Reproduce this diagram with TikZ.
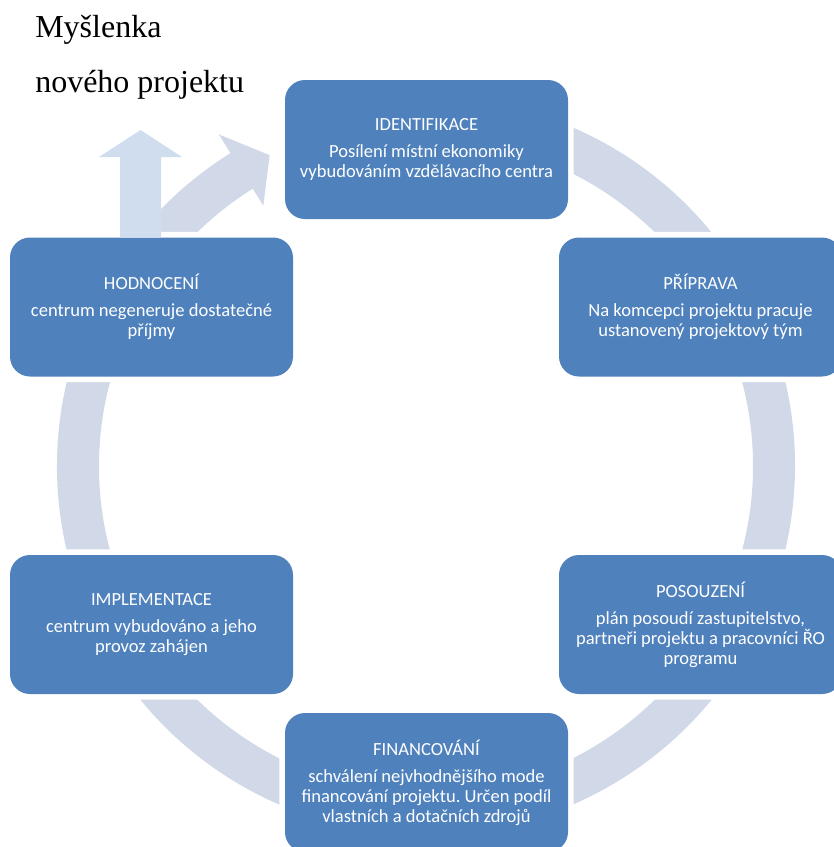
\documentclass[tikz,border=0pt]{standalone}
\usepackage{fontspec}
\setmainfont{Liberation Serif}
\newfontfamily\boxfont{Carlito}
\usetikzlibrary{calc}
\definecolor{ringc}{HTML}{D1D9E8}
\definecolor{uparrowc}{HTML}{CFDDEE}
\definecolor{boxblue}{HTML}{4F81BD}
\tikzset{
  stage/.style={rectangle, rounded corners=15pt, fill=boxblue,
    minimum width=212.25pt, minimum height=104.25pt, inner sep=0pt,
    text=white, align=center,
    font=\boxfont\fontsize{13.9}{15}\selectfont\frenchspacing,
    preaction={draw=white, line width=8.5pt}},
  idea/.style={font=\fontsize{24}{28}\selectfont, anchor=base west, inner sep=0pt}
}
\begin{document}
\begin{tikzpicture}[x=0.75pt,y=-0.75pt]
\useasboundingbox (0,0) rectangle (833,847);
\coordinate (C) at (426,466);

% cycle ring, open at the top left where it ends in an arrow head
\fill[ringc] ($(C)+(-121.5:369)$) arc[start angle=-121.5,end angle=-450,radius=369]
  -- ($(C)+(-450:327)$) arc[start angle=-450,end angle=-121.5,radius=327] -- cycle;
\fill[ringc] ($(C)+(-122:391)$) -- ($(C)+(-116.7:348)$) -- ($(C)+(-122:307)$) -- cycle;

% stages of the project cycle
\node[stage] (ident) at (426.5,149.5) {IDENTIFIKACE\\[5.25pt]Posílení místní ekonomiky\\vybudováním vzdělávacího centra};
\node[stage] (prip)  at (700.5,307)   {PŘÍPRAVA\\[5.25pt]Na komcepci projektu pracuje\\ustanovený projektový tým};
\node[stage] (posou) at (700.5,624.5) {POSOUZENÍ\\[5.25pt]plán posoudí zastupitelstvo,\\partneři projektu a pracovníci ŘO\\programu};
\node[stage] (finan) at (426.5,782.5) {FINANCOVÁNÍ\\[5.25pt]schválení nejvhodnějšího mode\\financování projektu. Určen podíl\\vlastních a dotačních zdrojů};
\node[stage] (impl)  at (151.5,624.5) {IMPLEMENTACE\\[5.25pt]centrum vybudováno a jeho\\provoz zahájen};
\node[stage] (hodn)  at (151.5,307)   {HODNOCENÍ\\[5.25pt]centrum negeneruje dostatečné\\příjmy};

% upward arrow leaving the evaluation stage
\fill[uparrowc] (120,237.6) -- (120,157) -- (99,157) -- (140.5,130) -- (182,157)
  -- (161,157) -- (161,237.6) -- cycle;

% new project idea
\node[idea] (idea1) at (35,37) {Myšlenka};
\node[idea] (idea2) at (35,92) {nového projektu};
\end{tikzpicture}
\end{document}
